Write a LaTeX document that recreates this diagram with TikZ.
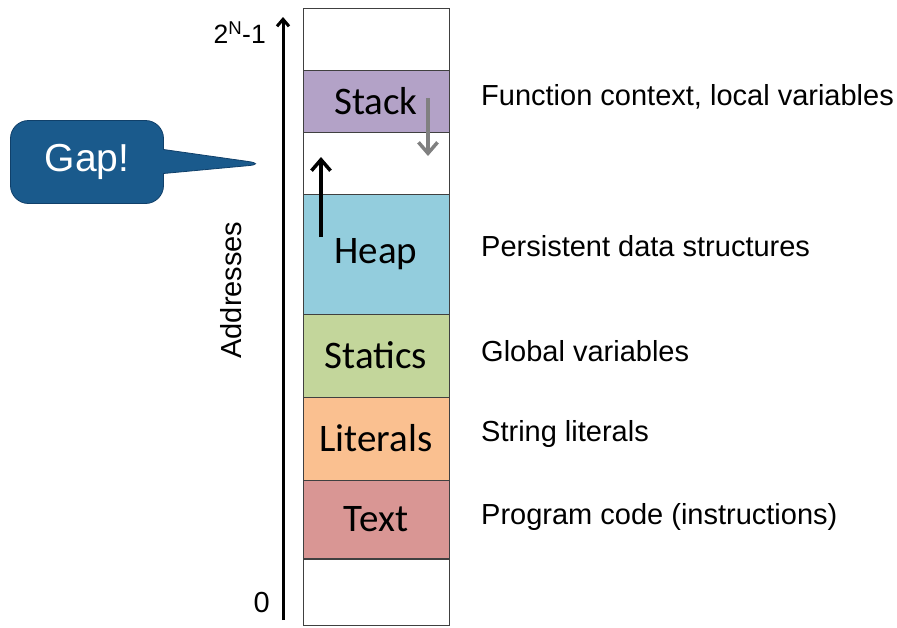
\documentclass[tikz,border=0pt]{standalone}
\usepackage{fontspec}
\setmainfont{Liberation Sans}
\newfontfamily\boxfont{Carlito}
\usetikzlibrary{arrows.meta,shapes.callouts}
\definecolor{stackc}{HTML}{B3A2C7}
\definecolor{heapc}{HTML}{93CDDD}
\definecolor{staticc}{HTML}{C3D69B}
\definecolor{litc}{HTML}{FAC090}
\definecolor{textc}{HTML}{D99694}
\definecolor{gapc}{HTML}{1A5A8C}
\definecolor{gapedge}{HTML}{10406A}
\tikzset{
  seg/.style={draw=black!75, line width=1pt, minimum width=146pt, inner sep=0pt, font=\boxfont\fontsize{39}{44}\selectfont},
  desc/.style={anchor=west, inner sep=0pt, font=\fontsize{29}{34}\selectfont},
  axlabel/.style={inner sep=0pt, font=\fontsize{29}{34}\selectfont},
  barb/.style={line width=3.5pt, -{Straight Barb[length=11pt,width=19pt,line width=3.5pt]}}
}
\begin{document}
\begin{tikzpicture}[x=1pt,y=-1pt]
\useasboundingbox (0,0) rectangle (897,627);
% memory column
\node[seg, fill=white, minimum height=62pt] (top) at (376,39) {};
\node[seg, fill=stackc, minimum height=62pt] (stack) at (376,101) {Stack};
\node[seg, fill=white, minimum height=62pt] (gapreg) at (376,163) {};
\node[seg, fill=heapc, minimum height=120pt] (heap) at (376,254) {Heap};
\node[seg, fill=staticc, minimum height=83pt] (statics) at (376,355.5) {Statics};
\node[seg, fill=litc, minimum height=83pt] (literals) at (376,438.5) {Literals};
\node[seg, fill=textc, minimum height=78pt] (textseg) at (376,519.5) {Text};
\node[seg, fill=white, minimum height=66pt] (bottom) at (376,592) {};
% growth arrows
\coordinate (sg0) at (428,98);
\coordinate (sg1) at (428,156);
\draw[barb, draw=black!50, line width=3.2pt] (sg0) -- (sg1);
\coordinate (hg0) at (321,237);
\coordinate (hg1) at (321,157);
\draw[barb] (hg0) -- (hg1);
% address axis
\coordinate (ax0) at (283,620);
\coordinate (ax1) at (283,17);
\draw[line width=3pt, -{Straight Barb[length=7pt,width=12pt,line width=3pt]}] (ax0) -- (ax1);
\node[axlabel, anchor=east, font=\fontsize{26.5}{30}\selectfont] (hi) at (266,33) {2\textsuperscript{N}-1};
\node[axlabel, anchor=east] (lo) at (270,603) {0};
\node[axlabel, rotate=90] (addr) at (231,290) {Addresses};
% descriptions
\node[desc] (d1) at (481,97) {Function context, local variables};
\node[desc] (d2) at (481,246) {Persistent data structures};
\node[desc] (d3) at (481,351) {Global variables};
\node[desc] (d4) at (481,434) {String literals};
\node[desc] (d5) at (481,517) {Program code (instructions)};
% gap callout
\coordinate (tip) at (266,164);
\node[rectangle callout, callout absolute pointer={(tip)}, callout pointer width=24pt,
  rounded corners=18pt, fill=gapc, draw=gapedge, line width=0.8pt,
  minimum width=153pt, minimum height=83pt, text=white,
  font=\fontsize{39}{44}\selectfont] (gap) at (87,162) {Gap!};
\end{tikzpicture}
\end{document}
